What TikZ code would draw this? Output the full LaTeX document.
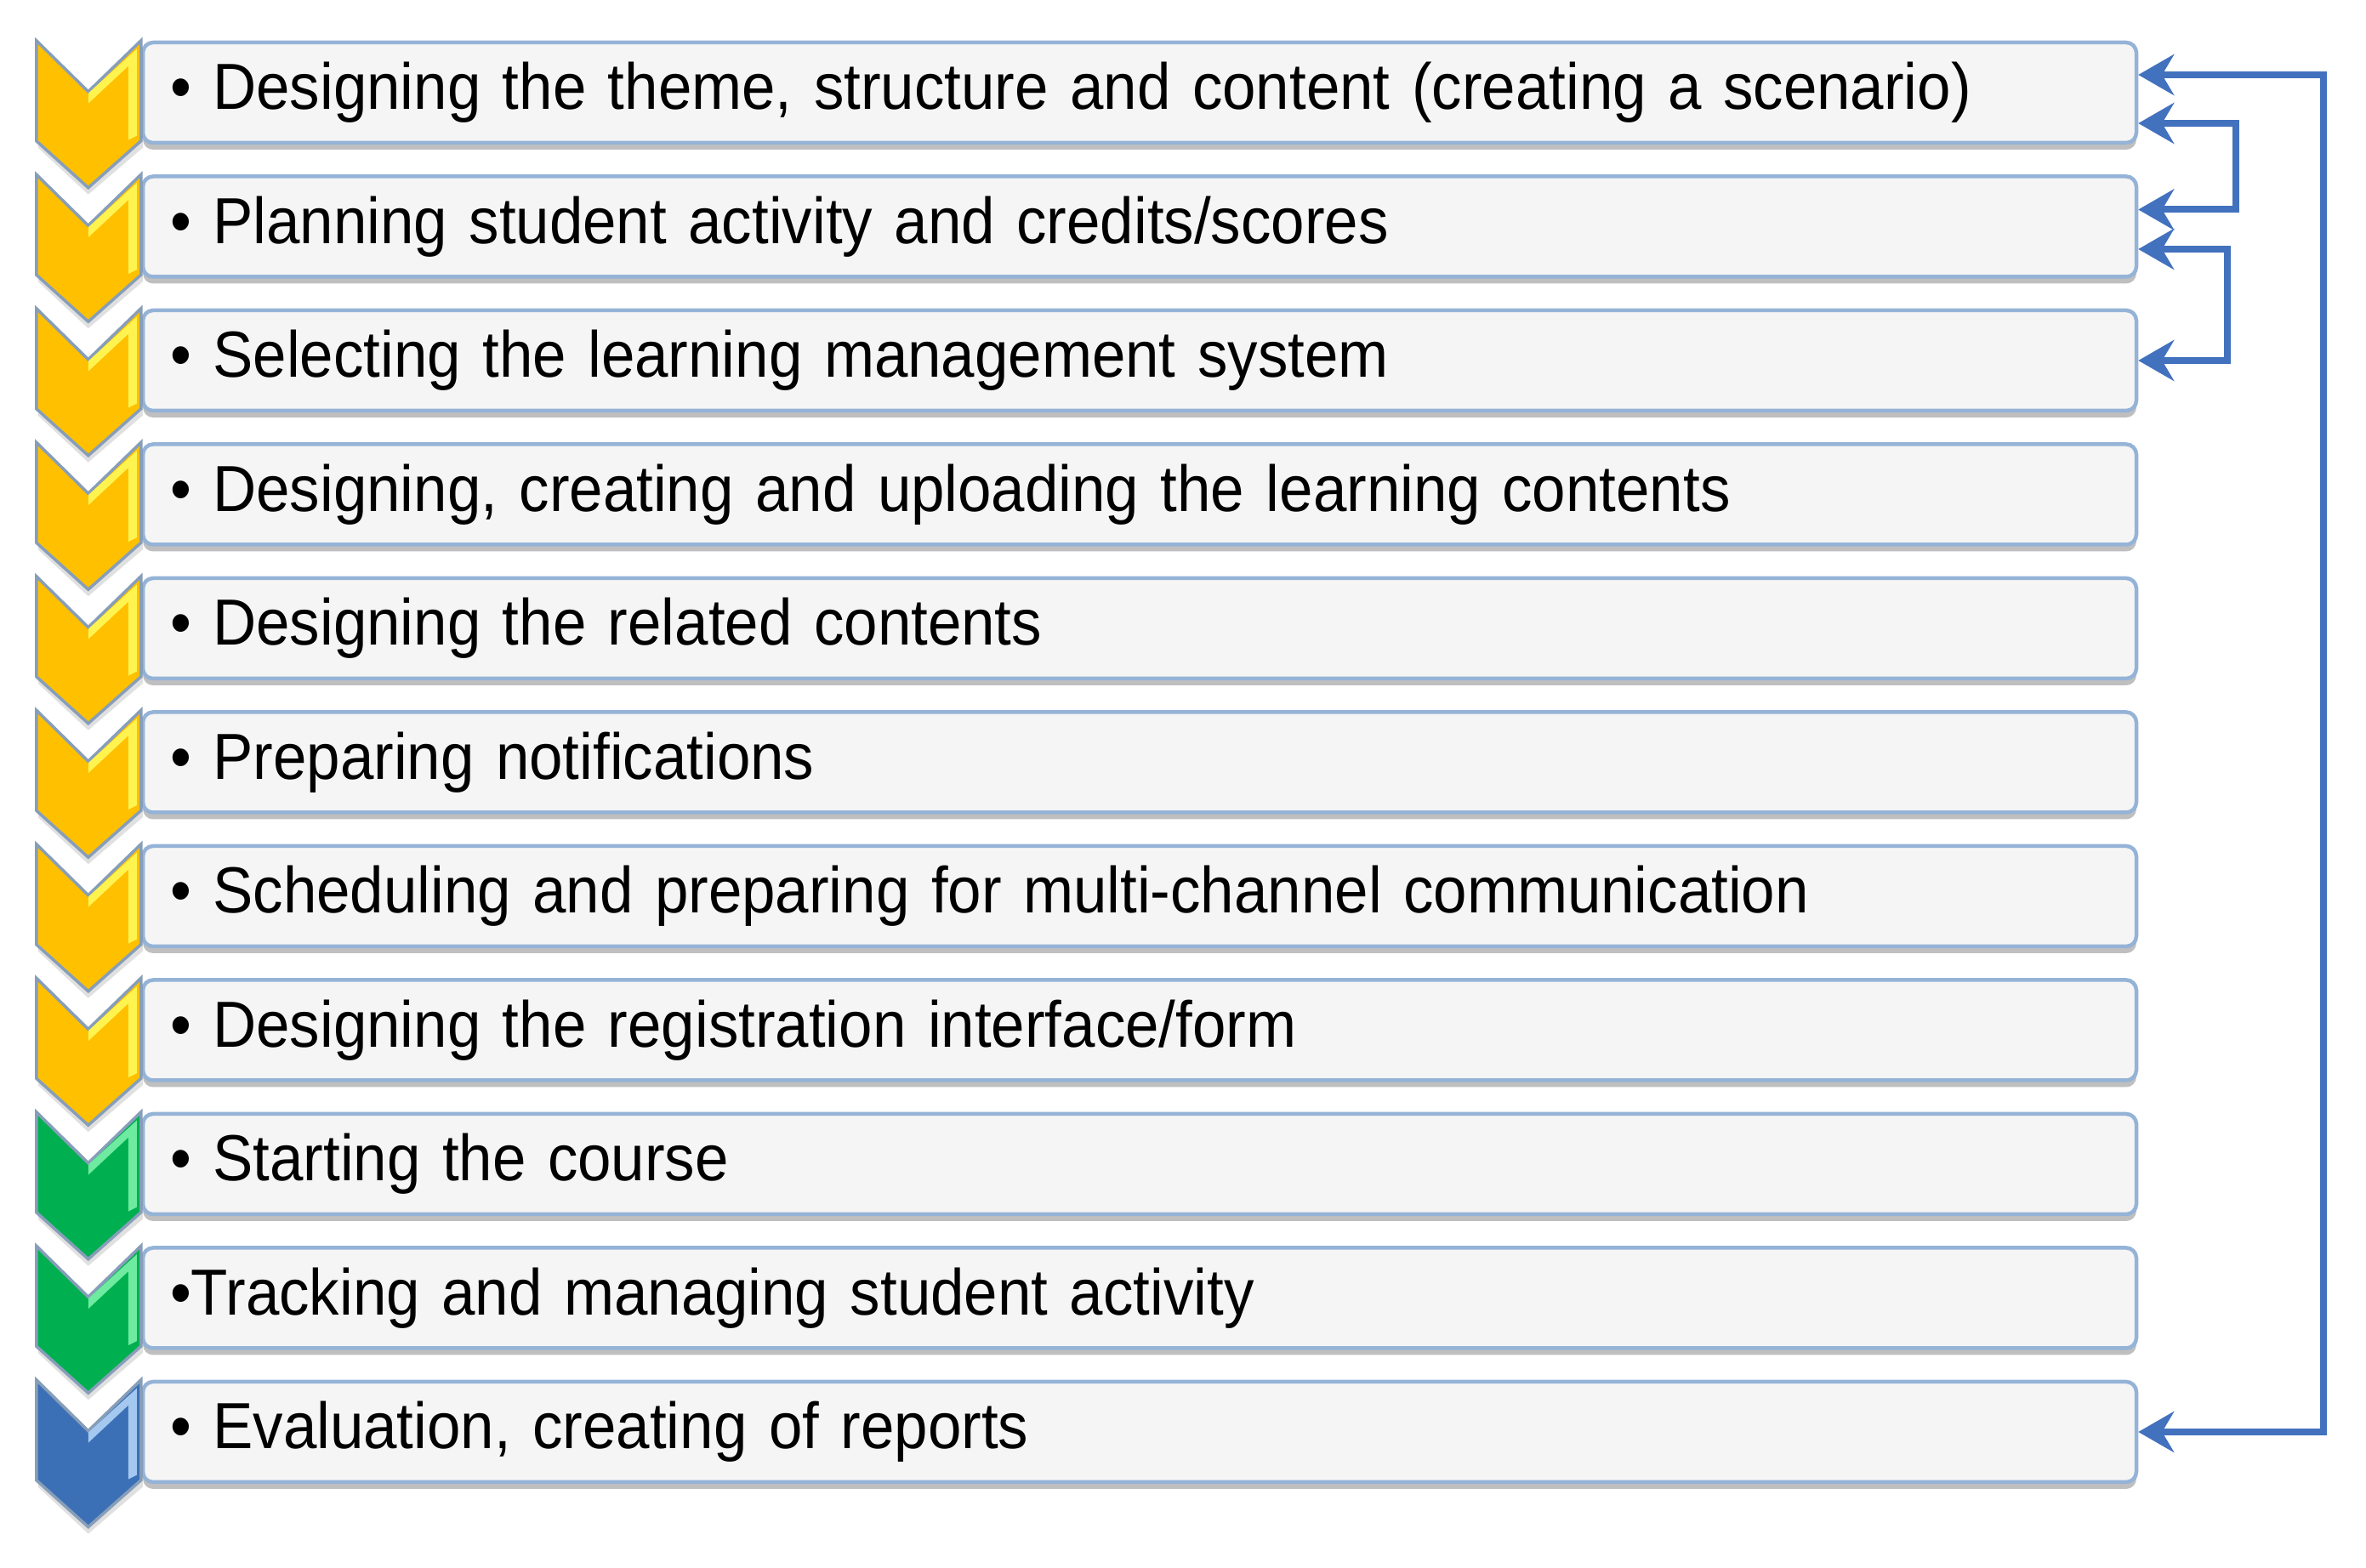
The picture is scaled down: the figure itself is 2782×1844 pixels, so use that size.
\documentclass[tikz,border=0pt]{standalone}
\usepackage{fontspec}
\setmainfont[FakeStretch=0.925]{Liberation Sans}
\usetikzlibrary{arrows.meta,shadows}

\definecolor{boxfill}{RGB}{245,245,245}
\definecolor{boxedge}{RGB}{149,179,215}
\definecolor{chevedge}{RGB}{135,158,185}
\definecolor{chevyellow}{RGB}{255,192,0}
\definecolor{hlyellow}{RGB}{255,243,80}
\definecolor{chevgreen}{RGB}{0,176,80}
\definecolor{hlgreen}{RGB}{110,235,160}
\definecolor{chevblue}{RGB}{60,112,182}
\definecolor{hlblue}{RGB}{165,200,240}
\definecolor{fbline}{RGB}{66,113,190}

\begin{document}
\begin{tikzpicture}[x=0.1mm,y=-0.1mm]
    \tikzset{
        stepbox/.style={
            draw=boxedge, line width=0.45mm, fill=boxfill,
            rounded corners=1.2mm,
            minimum width=234.4mm, minimum height=11.8mm,
            text width=228mm, align=left,
            inner xsep=3.2mm, inner ysep=0pt,
            font=\fontsize{21.8pt}{26pt}\selectfont,
            drop shadow={shadow xshift=0mm, shadow yshift=-0.8mm,
                fill=black, opacity=0.25}
        },
        pics/chev/.style 2 args={
            code={
                \fill[black, opacity=0.12] (-121,8) -- (-62,66) -- (2,8) -- (2,126) -- (-62,181) -- (-121,126) -- cycle;
                \filldraw[draw=chevedge, line width=0.35mm, fill=#1]
                    (-123,0) -- (-62,60) -- (0,0) -- (0,118) -- (-62,173) -- (-123,118) -- cycle;
                \fill[#2] (-62,62) -- (-5,10) -- (-5,112) -- (-15,117) -- (-15,30) -- (-62,74) -- cycle;
            }
        },
        fback/.style={
            draw=fbline, line width=0.8mm,
            {Stealth[length=4.2mm,width=4.8mm,inset=1.4mm]}-{Stealth[length=4.2mm,width=4.8mm,inset=1.4mm]}
        }
    }

    \useasboundingbox (0,0) rectangle (2782,1844);

    % the eleven steps
    \node[stepbox] (b1) at (1340,109) {• Designing the theme, structure and content (creating a scenario)};
    \node[stepbox] (b2) at ([yshift=-15.75mm] b1) {• Planning student activity and credits/scores};
    \node[stepbox] (b3) at ([yshift=-15.75mm] b2) {• Selecting the learning management system};
    \node[stepbox] (b4) at ([yshift=-15.75mm] b3) {• Designing, creating and uploading the learning contents};
    \node[stepbox] (b5) at ([yshift=-15.75mm] b4) {• Designing the related contents};
    \node[stepbox] (b6) at ([yshift=-15.75mm] b5) {• Preparing notifications};
    \node[stepbox] (b7) at ([yshift=-15.75mm] b6) {• Scheduling and preparing for multi-channel communication};
    \node[stepbox] (b8) at ([yshift=-15.75mm] b7) {• Designing the registration interface/form};
    \node[stepbox] (b9) at ([yshift=-15.75mm] b8) {• Starting the course};
    \node[stepbox] (b10) at ([yshift=-15.75mm] b9) {•Tracking and managing student activity};
    \node[stepbox] (b11) at ([yshift=-15.75mm] b10) {• Evaluation, creating of reports};

    % chevrons
    \pic at (b1.north west) {chev={chevyellow}{hlyellow}};
    \pic at (b2.north west) {chev={chevyellow}{hlyellow}};
    \pic at (b3.north west) {chev={chevyellow}{hlyellow}};
    \pic at (b4.north west) {chev={chevyellow}{hlyellow}};
    \pic at (b5.north west) {chev={chevyellow}{hlyellow}};
    \pic at (b6.north west) {chev={chevyellow}{hlyellow}};
    \pic at (b7.north west) {chev={chevyellow}{hlyellow}};
    \pic at (b8.north west) {chev={chevyellow}{hlyellow}};
    \pic at (b9.north west) {chev={chevgreen}{hlgreen}};
    \pic at (b10.north west) {chev={chevgreen}{hlgreen}};
    \pic at (b11.north west) {chev={chevblue}{hlblue}};

    % feedback loops
    \draw[fback] ([yshift=2.1mm] b1.east) -- ++(218,0) |- (b11.east);
    \draw[fback] ([yshift=-3.6mm] b1.east) -- ++(115,0) |- ([yshift=2mm] b2.east);
    \draw[fback] ([yshift=-2.65mm] b2.east) -- ++(105,0) |- (b3.east);
\end{tikzpicture}
\end{document}
